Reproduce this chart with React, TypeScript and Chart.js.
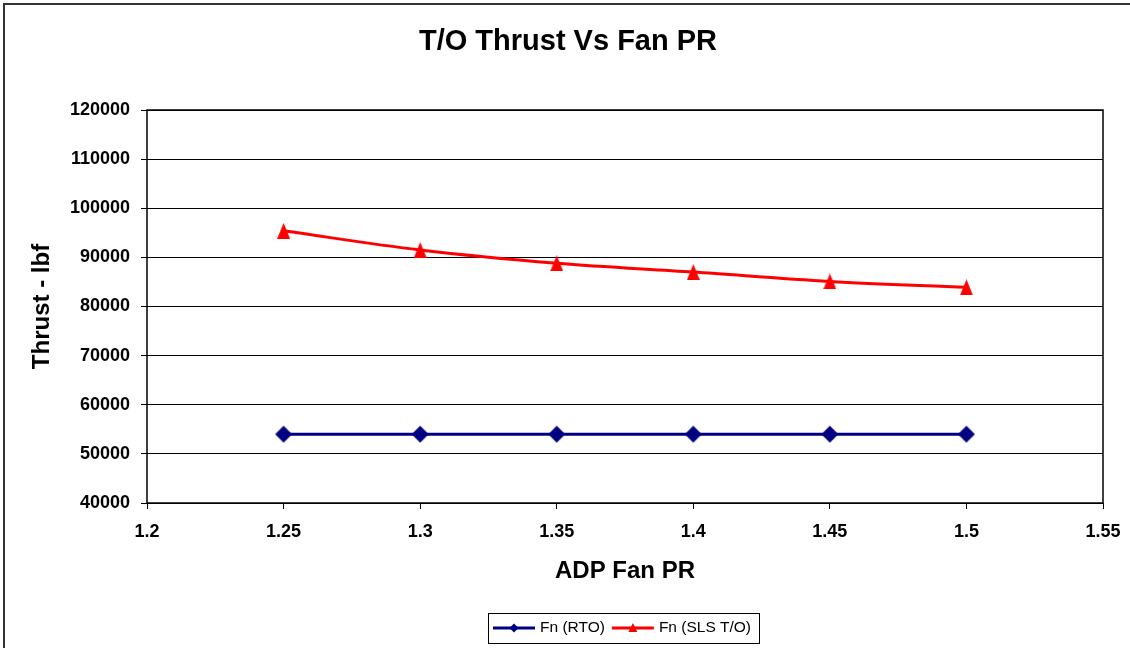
import React, { useEffect, useRef } from "react";
import { Chart, registerables } from "chart.js";

Chart.register(...registerables);

const FONT = "'Liberation Sans', Arial, Helvetica, sans-serif";

const fanPR = [1.25, 1.3, 1.35, 1.4, 1.45, 1.5];
const fnRTO = [54000, 54000, 54000, 54000, 54000, 54000];
const fnSLS = [95400, 91500, 88800, 87000, 85100, 83900];
const xTicks = [1.2, 1.25, 1.3, 1.35, 1.4, 1.45, 1.5, 1.55];
const yTicks = [40000, 50000, 60000, 70000, 80000, 90000, 100000, 110000, 120000];
const seriesLabels = ["Fn (RTO)", "Fn (SLS T/O)"];
const chartTitle = "T/O Thrust Vs Fan PR";

const BLUE = "#000080";
const RED = "#FF0000";

function makeDiamond(half: number, color: string) {
  const c = document.createElement("canvas");
  const s = Math.ceil(half * 2) + 1;
  c.width = s;
  c.height = s;
  const ctx = c.getContext("2d")!;
  const m = s / 2;
  ctx.fillStyle = color;
  ctx.beginPath();
  ctx.moveTo(m, m - half);
  ctx.lineTo(m + half, m);
  ctx.lineTo(m, m + half);
  ctx.lineTo(m - half, m);
  ctx.closePath();
  ctx.fill();
  return c;
}

function makeTriangle(w: number, h: number, color: string) {
  const c = document.createElement("canvas");
  c.width = w;
  c.height = h;
  const ctx = c.getContext("2d")!;
  ctx.fillStyle = color;
  ctx.beginPath();
  ctx.moveTo(w / 2, 0);
  ctx.lineTo(w, h);
  ctx.lineTo(0, h);
  ctx.closePath();
  ctx.fill();
  return c;
}

const framePlugin = {
  id: "frame",
  beforeDraw(chart: any) {
    const ctx = chart.ctx;
    ctx.save();
    ctx.fillStyle = "#fff";
    ctx.fillRect(0, 0, chart.width, chart.height);
    ctx.restore();
  },
  afterDraw(chart: any) {
    const ctx = chart.ctx;
    const a = chart.chartArea;
    ctx.save();
    // outer chart border
    ctx.strokeStyle = "#333";
    ctx.lineWidth = 2;
    ctx.strokeRect(4, 4, chart.width + 20, chart.height + 20);
    // plot frame
    ctx.strokeStyle = "#000";
    ctx.lineWidth = 1.5;
    ctx.strokeRect(Math.round(a.left), Math.round(a.top), Math.round(a.right - a.left), Math.round(a.bottom - a.top));

    // title
    ctx.fillStyle = "#000";
    ctx.font = `bold 29px ${FONT}`;
    ctx.textAlign = "center";
    ctx.textBaseline = "middle";
    ctx.fillText(chartTitle, 568, 42);

    // legend
    const fontSize = 15.5;
    ctx.font = `${fontSize}px ${FONT}`;
    const ds = chart.data.datasets;
    const sample = 42;
    const gap = 5;
    const itemGap = 7;
    const padL = 5;
    const padR = 8;
    const widths = ds.map((d: any) => ctx.measureText(d.label).width);
    let total = padL + padR;
    widths.forEach((w: number, i: number) => {
      total += sample + gap + w + (i > 0 ? itemGap : 0);
    });
    const cx = 624;
    const boxL = Math.round(cx - total / 2);
    const boxT = 613;
    const boxH = 30;
    ctx.strokeStyle = "#000";
    ctx.lineWidth = 1;
    ctx.strokeRect(boxL + 0.5, boxT + 0.5, Math.round(total), boxH);
    const cy = boxT + boxH / 2;
    let x = boxL + padL;
    ds.forEach((d: any, i: number) => {
      if (i > 0) x += itemGap;
      ctx.strokeStyle = d.borderColor;
      ctx.lineWidth = 3;
      ctx.beginPath();
      ctx.moveTo(x, cy);
      ctx.lineTo(x + sample, cy);
      ctx.stroke();
      const mx = x + sample / 2;
      ctx.fillStyle = d.borderColor;
      ctx.beginPath();
      if (i === 0) {
        ctx.moveTo(mx, cy - 4.5);
        ctx.lineTo(mx + 4.5, cy);
        ctx.lineTo(mx, cy + 4.5);
        ctx.lineTo(mx - 4.5, cy);
      } else {
        ctx.moveTo(mx, cy - 5);
        ctx.lineTo(mx + 4.5, cy + 4);
        ctx.lineTo(mx - 4.5, cy + 4);
      }
      ctx.closePath();
      ctx.fill();
      x += sample + gap;
      ctx.fillStyle = "#000";
      ctx.textBaseline = "middle";
      ctx.textAlign = "left";
      ctx.fillText(d.label, x, cy);
      x += widths[i];
    });
    ctx.restore();
  },
};

export default function App() {
  const ref = useRef<HTMLCanvasElement | null>(null);

  useEffect(() => {
    if (!ref.current) return;
    const diamond = makeDiamond(8.5, BLUE);
    const triangle = makeTriangle(13, 16, RED);
    const fmt = (v: any) => String(Number(Number(v).toFixed(2)));
    const chart = new Chart(ref.current, {
      type: "line",
      data: {
        datasets: [
          {
            label: seriesLabels[0],
            data: fanPR.map((x, i) => ({ x, y: fnRTO[i] })),
            borderColor: BLUE,
            backgroundColor: BLUE,
            borderWidth: 3,
            pointStyle: diamond as any,
            tension: 0,
          },
          {
            label: seriesLabels[1],
            data: fanPR.map((x, i) => ({ x, y: fnSLS[i] })),
            borderColor: RED,
            backgroundColor: RED,
            borderWidth: 3,
            pointStyle: triangle as any,
            tension: 0.35,
          },
        ],
      },
      options: {
        responsive: false,
        animation: false,
        events: [],
        layout: { padding: { left: 10, right: 27, top: 110, bottom: 50 } },
        plugins: {
          legend: { display: false },
          tooltip: { enabled: false },
          title: { display: false },
        },
        scales: {
          x: {
            type: "linear",
            position: "bottom",
            min: 1.2,
            max: 1.55,
            afterBuildTicks: (s: any) => {
              s.ticks = xTicks.map((v) => ({ value: v }));
            },
            afterFit: (s: any) => {
              s.height = 95;
              s.paddingLeft = 0;
              s.paddingRight = 0;
            },
            grid: { drawOnChartArea: false, drawTicks: true, tickLength: 6, color: "#000", lineWidth: 1 },
            border: { display: false },
            ticks: {
              color: "#000",
              font: { family: FONT, size: 18, weight: "bold" },
              padding: 12,
              maxRotation: 0,
              autoSkip: false,
              callback: fmt,
            },
            title: {
              display: true,
              text: "ADP Fan PR",
              color: "#000",
              font: { family: FONT, size: 24, weight: "bold" },
              padding: { top: 0, bottom: 12 },
            },
          },
          y: {
            type: "linear",
            min: 40000,
            max: 120000,
            afterBuildTicks: (s: any) => {
              s.ticks = yTicks.map((v) => ({ value: v }));
            },
            afterFit: (s: any) => {
              s.width = 137;
              s.paddingTop = 0;
              s.paddingBottom = 0;
            },
            grid: { drawOnChartArea: true, drawTicks: true, tickLength: 6, color: "#000", lineWidth: 1 },
            border: { display: false },
            ticks: {
              color: "#000",
              font: { family: FONT, size: 18, weight: "bold" },
              padding: 11,
              autoSkip: false,
              callback: (v: any) => String(v),
            },
            title: {
              display: true,
              text: "Thrust - lbf",
              color: "#000",
              font: { family: FONT, size: 24, weight: "bold" },
              padding: { top: 18, bottom: 0 },
            },
          },
        },
      },
      plugins: [framePlugin],
    } as any);
    return () => chart.destroy();
  }, []);

  return (
    <div style={{ position: "fixed", left: 0, top: 0, width: 1130, height: 648, background: "#fff" }}>
      <canvas ref={ref} width={1130} height={648} style={{ display: "block", width: 1130, height: 648 }} />
    </div>
  );
}
